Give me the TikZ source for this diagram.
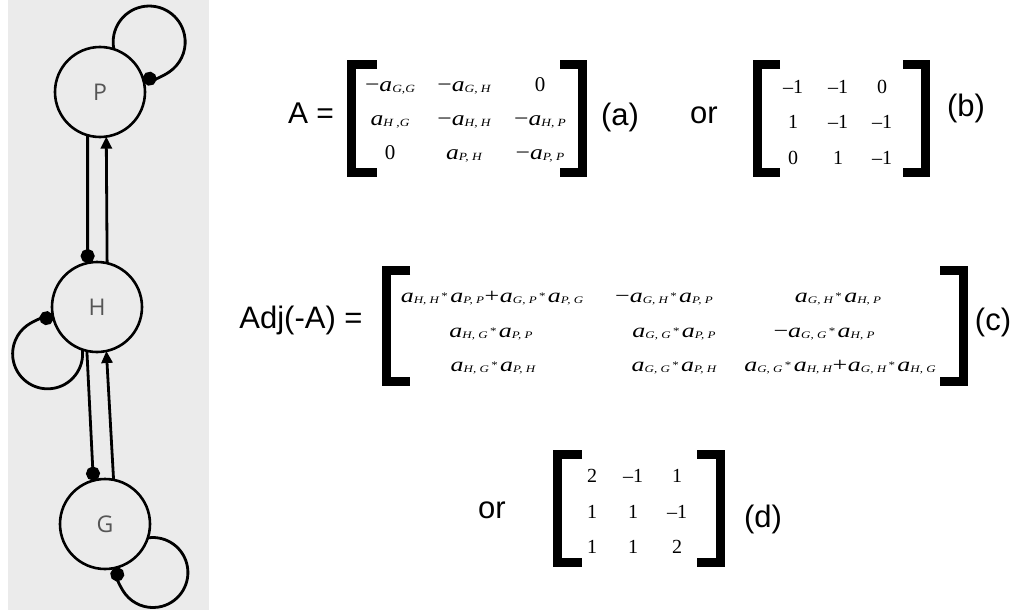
\documentclass[tikz,border=0pt]{standalone}
\usepackage{fontspec}
\usepackage{graphicx}
\setmainfont{Liberation Sans}
\newfontfamily\tms{Liberation Serif}
\newfontfamily\nodefnt{Open Sans}
\usetikzlibrary{arrows.meta}
\definecolor{panelgray}{HTML}{EBEBEB}
\definecolor{labelgray}{HTML}{555555}
% entries of A
\newcommand{\ea}[1]{{\fontsize{21}{21}\selectfont\itshape a}\raisebox{-1pt}{\fontsize{11}{11}\selectfont\itshape #1}}
\newcommand{\mna}{{\fontsize{21}{21}\selectfont −}}
\newcommand{\sxa}[1]{\scalebox{1.22}[1]{#1}}
% entries of Adj(-A)
\newcommand{\eb}[1]{{\fontsize{20}{20}\selectfont\itshape a}\raisebox{-1pt}{\fontsize{10}{10}\selectfont\itshape #1}}
\newcommand{\mnb}{{\fontsize{20}{20}\selectfont −}}
\newcommand{\mul}{\hspace{1.8pt}\raisebox{2.5pt}{\fontsize{10}{10}\selectfont *}\hspace{1.8pt}}
\newcommand{\pls}{\hspace{0.5pt}{\fontsize{20}{20}\selectfont +}\hspace{0.5pt}}
\newcommand{\sxb}[1]{\scalebox{1.3}[1]{#1}}
\tikzset{
  gnode/.style={circle, draw=black, line width=2.6pt, fill=panelgray, minimum size=90pt,
    inner sep=0pt, outer sep=0pt, font=\nodefnt\fontsize{23}{23}\selectfont, text=labelgray},
  edge/.style={line width=2.8pt},
  dotend/.style={-{Circle[length=14pt]}},
  arrend/.style={-{Triangle[length=12pt,width=11pt]}},
  brk/.style={line width=9pt, line join=miter},
  lbl/.style={anchor=base, inner sep=0pt, font=\fontsize{31}{31}\selectfont},
  eqlbl/.style={anchor=base, inner sep=0pt, font=\fontsize{30}{30}\selectfont},
  enta/.style={anchor=base, inner sep=0pt, font=\tms},
  num/.style={anchor=base, inner sep=0pt, font=\tms\fontsize{20}{20}\selectfont},
}
\begin{document}
\begin{tikzpicture}[x=1pt,y=-1pt]
\useasboundingbox (0,0) rectangle (1016,610);
\fill[white] (0,0) rectangle (1016,610);
% left panel
\fill[panelgray] (8,0) rectangle (209,610);
\node[gnode] (P) at (100,92) {P};
\node[gnode] (H) at (97,307) {H};
\node[gnode] (G) at (105,524) {G};
\draw[edge,dotend] (P.254.5) -- (H.102.8);
\draw[edge,arrend] (H.77.2) -- (P.278.9);
\draw[edge,dotend] (H.257.2) -- (G.105.5);
\draw[edge,arrend] (G.79.8) -- (H.282.8);
\draw[edge,dotend] (P.72) arc[start angle=168.5,end angle=460.4,radius=36];
\draw[edge,dotend] (H.251.6) arc[start angle=-7,end angle=279.5,radius=35];
\draw[edge,dotend] (G.342.8) arc[start angle=261.6,end angle=548.4,radius=35];

% matrix A
\node[eqlbl] (Alab) at (311,123) {A =};
\draw[brk] (377,64.5) -- (351.5,64.5) -- (351.5,172.5) -- (377,172.5);
\draw[brk] (560,64.5) -- (582.5,64.5) -- (582.5,172.5) -- (560,172.5);
\node[enta] (a11) at (390,91) {\sxa{\mna\ea{G,G}}};
\node[enta] (a12) at (464,91) {\sxa{\mna\ea{G, H}}};
\node[enta] (a13) at (540,91) {\fontsize{21}{21}\selectfont 0};
\node[enta] (a21) at (390,125) {\sxa{\ea{H ,G}}};
\node[enta] (a22) at (464,125) {\sxa{\mna\ea{H, H}}};
\node[enta] (a23) at (540,125) {\sxa{\mna\ea{H, P}}};
\node[enta] (a31) at (390,159) {\fontsize{21}{21}\selectfont 0};
\node[enta] (a32) at (464,159) {\sxa{\ea{P, H}}};
\node[enta] (a33) at (540,159) {\sxa{\mna\ea{P, P}}};
\node[lbl] (la) at (620,125) {(a)};
\node[lbl] (or1) at (704,123) {or};

% matrix b
\draw[brk] (780,64.5) -- (757.5,64.5) -- (757.5,172.5) -- (780,172.5);
\draw[brk] (903,64.5) -- (925.5,64.5) -- (925.5,172.5) -- (903,172.5);
\node[num] (b11) at (793,93) {–1};
\node[num] (b12) at (838,93) {–1};
\node[num] (b13) at (882,93) {0};
\node[num] (b21) at (793,128) {1};
\node[num] (b22) at (838,128) {–1};
\node[num] (b23) at (882,128) {–1};
\node[num] (b31) at (793,164) {0};
\node[num] (b32) at (838,164) {1};
\node[num] (b33) at (882,164) {–1};
\node[lbl] (lb) at (966,116) {(b)};

% adjugate
\node[lbl] (Adjlab) at (301,328) {Adj(-A) =};
\draw[brk] (410,270.5) -- (386.5,270.5) -- (386.5,381.5) -- (410,381.5);
\draw[brk] (940,270.5) -- (963.5,270.5) -- (963.5,381.5) -- (940,381.5);
\node[enta] (c11) at (492,302) {\sxb{\eb{H, H}\mul\eb{P, P}\pls\eb{G, P}\mul\eb{P, G}}};
\node[enta] (c12) at (664,302) {\sxb{\mnb\eb{G, H}\mul\eb{P, P}}};
\node[enta] (c13) at (838,302) {\sxb{\eb{G, H}\mul\eb{H, P}}};
\node[enta] (c21) at (491,337) {\sxb{\eb{H, G}\mul\eb{P, P}}};
\node[enta] (c22) at (674,337) {\sxb{\eb{G, G}\mul\eb{P, P}}};
\node[enta] (c23) at (824,337) {\sxb{\mnb\eb{G, G}\mul\eb{H, P}}};
\node[enta] (c31) at (493,371) {\sxb{\eb{H, G}\mul\eb{P, H}}};
\node[enta] (c32) at (674,371) {\sxb{\eb{G, G}\mul\eb{P, H}}};
\node[enta] (c33) at (840,371) {\sxb{\eb{G, G}\mul\eb{H, H}\pls\eb{G, H}\mul\eb{H, G}}};
\node[lbl] (lc) at (993,330) {(c)};

% matrix d
\node[lbl] (or2) at (492,518) {or};
\draw[brk] (582,454.5) -- (557.5,454.5) -- (557.5,562.5) -- (582,562.5);
\draw[brk] (697,454.5) -- (720.5,454.5) -- (720.5,562.5) -- (697,562.5);
\node[num] (d11) at (592,482) {2};
\node[num] (d12) at (633,482) {–1};
\node[num] (d13) at (677,482) {1};
\node[num] (d21) at (592,518) {1};
\node[num] (d22) at (633,518) {1};
\node[num] (d23) at (677,518) {–1};
\node[num] (d31) at (592,553) {1};
\node[num] (d32) at (633,553) {1};
\node[num] (d33) at (677,553) {2};
\node[lbl] (ld) at (763,527) {(d)};
\end{tikzpicture}
\end{document}
